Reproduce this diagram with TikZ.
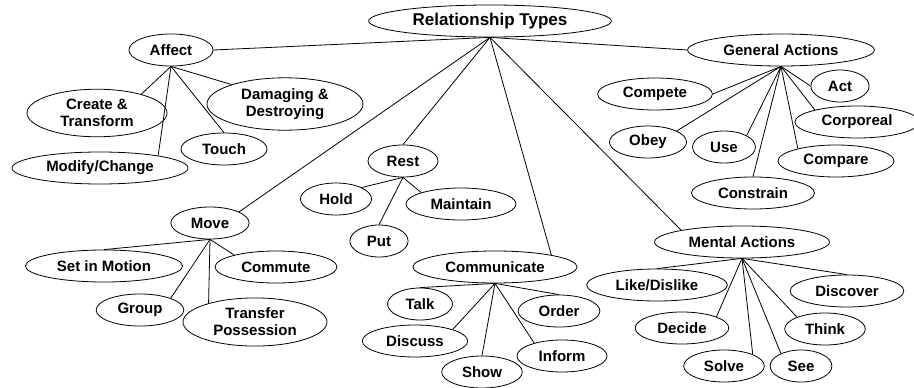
\documentclass[tikz,border=0pt]{standalone}
\usepackage{fontspec}
\setmainfont{Liberation Sans}
\usepackage{tikz}
\usetikzlibrary{shapes.geometric}

\begin{document}
\begin{tikzpicture}[x=1pt,y=-1pt,line width=0.8pt,
                    font=\fontsize{15}{17}\selectfont\bfseries]
  \tikzstyle{topic}=[ellipse,draw,fill=white,inner xsep=8.5pt,inner ysep=3pt,
                     minimum height=32pt,align=center]
  \useasboundingbox (0,0) rectangle (914,388);

  \node[topic,font=\fontsize{17}{19}\selectfont\bfseries] (rt) at (490,21) {Relationship Types};

  \node[topic] (affect)  at (171,50)  {Affect};
  \node[topic,minimum width=140pt] (create)  at (97,113)  {Create \&\\Transform};
  \node[topic,minimum width=156pt] (damage)  at (285,104) {Damaging \&\\Destroying};
  \node[topic] (touch)   at (224,149) {Touch};
  \node[topic] (modify)  at (100,168) {Modify/Change};

  \node[topic] (rest)    at (403,161) {Rest};
  \node[topic] (hold)    at (336,199) {Hold};
  \node[topic] (maint)   at (461,204) {Maintain};
  \node[topic] (put)     at (379,241) {Put};

  \node[topic] (move)    at (210,223) {Move};
  \node[topic] (motion)  at (104,266) {Set in Motion};
  \node[topic] (commute) at (276,267) {Commute};
  \node[topic] (group)   at (140,310) {Group};
  \node[topic,minimum width=144pt] (transfer) at (255,322) {Transfer\\Possession};

  \node[topic] (comm)    at (495,267) {Communicate};
  \node[topic] (talk)    at (420,304) {Talk};
  \node[topic] (discuss) at (415,341) {Discuss};
  \node[topic] (show)    at (482,372) {Show};
  \node[topic] (order)   at (559,311) {Order};
  \node[topic] (inform)  at (562,356) {Inform};

  \node[topic] (mental)  at (742,242) {Mental Actions};
  \node[topic] (like)    at (657,285) {Like/Dislike};
  \node[topic] (discover) at (847,291) {Discover};
  \node[topic] (decide)  at (682,328) {Decide};
  \node[topic] (think)   at (825,329) {Think};
  \node[topic] (solve)   at (724,366) {Solve};
  \node[topic] (see)     at (801,366) {See};

  \node[topic] (general) at (781,50)  {General Actions};
  \node[topic] (compete) at (655,94)  {Compete};
  \node[topic] (act)     at (840,86)  {Act};
  \node[topic] (corporeal) at (857,122) {Corporeal};
  \node[topic] (obey)    at (648,142) {Obey};
  \node[topic] (use)     at (724,147) {Use};
  \node[topic] (compare) at (836,161) {Compare};
  \node[topic] (constrain) at (753,193) {Constrain};

  \path (rt.south) edge (affect.east)
                   edge (move.21)
                   edge (rest.north)
                   edge (comm.12)
                   edge (mental.169)
                   edge (general.west)
        (affect.south) edge (create.23)
                       edge (modify.12)
                       edge (touch.north)
                       edge (damage.160)
        (rest.south) edge (hold.24)
                     edge (put.north)
                     edge (maint.164)
        (move.south) edge (motion.north)
                     edge (commute.164)
                     edge (group.21)
                     edge (transfer.158)
        (comm.south) edge (talk.north)
                     edge (discuss.17)
                     edge (show.north)
                     edge (order.north)
                     edge (inform.155)
        (mental.south) edge (like.north)
                       edge (decide.18)
                       edge (solve.22)
                       edge (see.148)
                       edge (think.157)
                       edge (discover.north)
        (general.south) edge (compete.east)
                        edge (obey.21)
                        edge (use.27)
                        edge (constrain.north)
                        edge (compare.162)
                        edge (corporeal.164)
                        edge (act.west);
\end{tikzpicture}
\end{document}
